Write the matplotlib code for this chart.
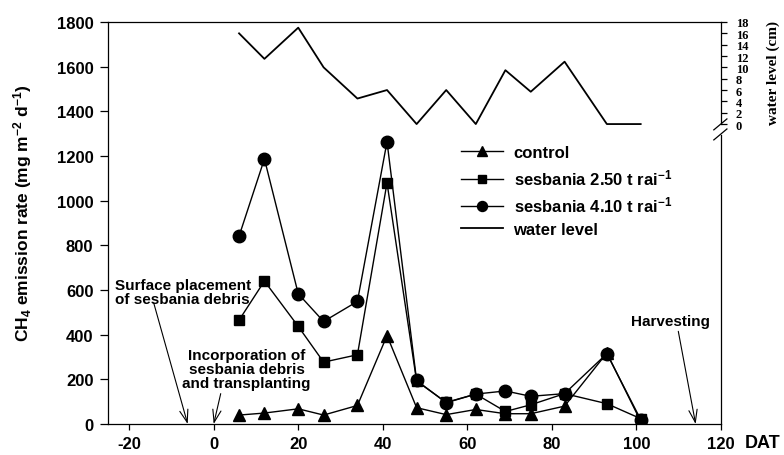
import matplotlib
matplotlib.use('Agg')
import matplotlib.pyplot as plt

plt.rcParams['font.family'] = ['Liberation Sans', 'DejaVu Sans']
plt.rcParams['font.weight'] = 'bold'
plt.rcParams['axes.unicode_minus'] = False
plt.rcParams['mathtext.fontset'] = 'custom'
plt.rcParams['mathtext.rm'] = 'Liberation Sans:bold'
plt.rcParams['mathtext.it'] = 'Liberation Sans:bold'
plt.rcParams['mathtext.bf'] = 'Liberation Sans:bold'
plt.rcParams['mathtext.default'] = 'rm'

# ---------------- data ----------------
days = [6, 12, 20, 26, 34, 41, 48, 55, 62, 69, 75, 83, 93, 101]
control = [40, 49, 68, 40, 83, 396, 73, 42, 65, 46, 46, 80, 318, 12]
sesbania_250 = [465, 640, 437, 277, 310, 1080, 192, 97, 134, 56, 86, 136, 91, 24]
sesbania_410 = [841, 1187, 583, 459, 549, 1264, 195, 95, 134, 148, 124, 136, 315, 20]
water_level = [16, 11.5, 17, 10, 4.5, 6, 0, 6, 0, 9.5, 5.7, 11, 0, 0]

x_ticks = [-20, 0, 20, 40, 60, 80, 100, 120]
y_ticks = [0, 200, 400, 600, 800, 1000, 1200, 1400, 1600, 1800]
wl_ticks = [0, 2, 4, 6, 8, 10, 12, 14, 16, 18]
labels = ['control', 'sesbania 2.50 t rai$^{-1}$', 'sesbania 4.10 t rai$^{-1}$', 'water level']

W, H = 784, 456
fig = plt.figure(figsize=(W / 100, H / 100), dpi=100)
ax = fig.add_axes([108 / W, 1 - 425 / H, (721 - 108) / W, (425 - 23) / H])

l1, = ax.plot(days, control, color='black', lw=1.0, marker='^', ms=8.5, mfc='black', mec='black')
l2, = ax.plot(days, sesbania_250, color='black', lw=1.0, marker='s', ms=7.5, mfc='black', mec='black')
l3, = ax.plot(days, sesbania_410, color='black', lw=1.0, marker='o', ms=9, mfc='black', mec='black')

ax.set_xlim(-25, 120)
ax.set_ylim(0, 1800)
ax.set_xticks(x_ticks)
ax.set_yticks(y_ticks)
ax.tick_params(axis='y', direction='out', length=5.5, width=0.9, pad=5, labelsize=12)
ax.tick_params(axis='x', direction='out', length=4, width=0.9, pad=5, labelsize=12)
for s in ax.spines.values():
    s.set_linewidth(0.9)
ax.spines['right'].set_bounds(0, 1296)

# water level axis (0 at 1343 of primary, 18 at 1800)
ax2 = ax.twinx()
wl_base = 1343.0
unit = (1800 - wl_base) / 18.0
ax2.set_ylim(-wl_base / unit, 18)
l4, = ax2.plot(days, water_level, color='black', lw=1.3)
ax2.set_yticks(wl_ticks)
ax2.tick_params(axis='y', direction='out', length=4.5, width=0.9, pad=6, labelsize=9)
for t in ax2.get_yticklabels():
    t.set_fontfamily(['Liberation Serif', 'DejaVu Serif'])
    t.set_fontweight('bold')
for k in ['left', 'top', 'bottom']:
    ax2.spines[k].set_visible(False)
ax2.spines['right'].set_bounds(0, 18)
ax2.spines['right'].set_linewidth(0.9)

# axis break marks
for y0, y1 in [(1272, 1321), (1317, 1366)]:
    ax.plot([118.3, 121.4], [y0, y1], color='black', lw=0.9, clip_on=False)

# labels
fig.text(23 / W, 1 - 213 / H, r'CH$_4$ emission rate (mg m$^{-2}$ d$^{-1}$)', rotation=90,
         ha='center', va='center', fontsize=12.5, fontweight='bold')
fig.text(773 / W, 1 - 73 / H, 'water level (cm)', rotation=90, ha='center', va='center',
         fontsize=11, fontweight='bold', family=['Liberation Serif', 'DejaVu Serif'])
fig.text(745 / W, 1 - 444 / H, 'DAT', ha='left', va='center', fontsize=13, fontweight='bold')

# annotations
arrow = dict(arrowstyle='->,head_length=0.9,head_width=0.3', color='black', lw=0.8,
             shrinkA=0, shrinkB=0)
ax.annotate('', xy=(-6.15, 0), xytext=(-14.2, 543), arrowprops=arrow, annotation_clip=False)
ax.text(-23.4, 592, 'Surface placement\nof sesbania debris', ha='left', va='center',
        fontsize=11, fontweight='bold', linespacing=1.0)
ax.annotate('', xy=(0, 0), xytext=(1.66, 136), arrowprops=arrow, annotation_clip=False)
ax.text(7.8, 247, 'Incorporation of\nsesbania debris\nand transplanting', ha='center', va='center',
        fontsize=11, fontweight='bold', linespacing=1.0)
ax.annotate('', xy=(114, 0), xytext=(109.9, 415), arrowprops=arrow, annotation_clip=False)
ax.text(108.0, 463, 'Harvesting', ha='center', va='center', fontsize=11, fontweight='bold')

leg = ax2.legend([l1, l2, l3, l4], labels, loc='upper left',
                 bbox_to_anchor=(461 / W, 1 - 146 / H), bbox_transform=fig.transFigure,
                 frameon=False, borderpad=0, borderaxespad=0, handlelength=2.5,
                 handletextpad=0.65, labelspacing=0.45, fontsize=12, markerscale=0.8)

fig.savefig('out.png', dpi=100)
